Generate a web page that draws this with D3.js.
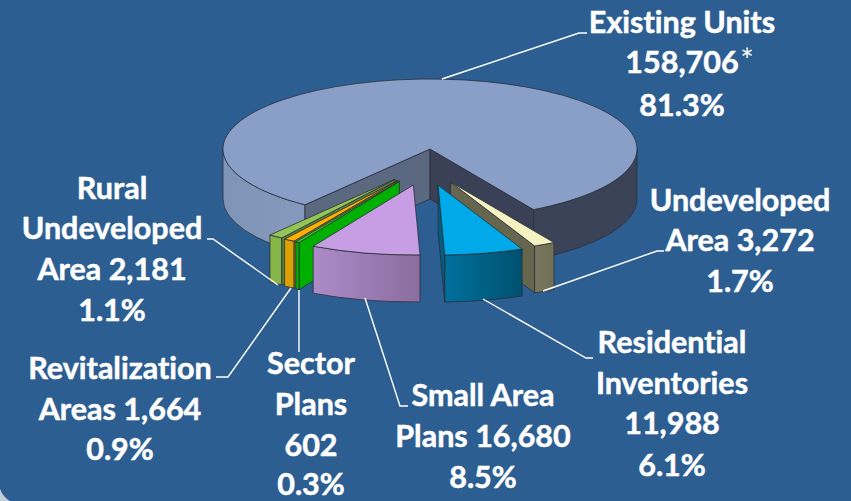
<!DOCTYPE html>
<html>
<head>
<meta charset="utf-8">
<script src="https://cdnjs.cloudflare.com/ajax/libs/d3/7.8.5/d3.min.js"></script>
<style>
  html, body { margin: 0; padding: 0; background: #2d5e91; overflow: hidden; }
  svg { display: block; }
  .lbl { font-family: Lato, "Open Sans", sans-serif; font-weight: 700; fill: #fff; stroke: #fff; stroke-width: 0.5px; text-anchor: middle; font-variant-ligatures: none; }
  .star { font-family: Lato, "Open Sans", sans-serif; font-weight: 400; fill: #fff; text-anchor: middle; }
</style>
</head>
<body>
<div id="chart"></div>
<script>
// slices in drawing order round the pie, clockwise from the "Existing Units" right edge
var categories = ["Undeveloped Area", "Residential Inventories", "Small Area Plans", "Sector Plans", "Revitalization Areas", "Rural Undeveloped Area", "Existing Units"];
var units = [3272, 11988, 16680, 602, 1664, 2181, 158706];
var percents = ["1.7%", "6.1%", "8.5%", "0.3%", "0.9%", "1.1%", "81.3%"];

var width = 851, height = 501;
var rx = 207, ry = 70;
var center = [430, 149];
var rad = Math.PI / 180;

// colours: top, wall left, wall right, cut face
var colors = [
  {top: "#f5f3c2", w0: "#7b7a60", w1: "#6f6e55", face: "#66654d"},
  {top: "#00a9e8", w0: "#00709c", w1: "#00516f", face: "#005f80"},
  {top: "#c79de3", w0: "#ac8bc8", w1: "#8b6d9e", face: "#8b6d9e"},
  {top: "#29d629", w0: "#00b000", w1: "#00b000", face: "#00b000"},
  {top: "#ffb000", w0: "#dea200", w1: "#dea200", face: "#8f7a1c"},
  {top: "#93c655", w0: "#86b548", w1: "#86b548", face: "#5c7f38"},
  {top: "#8a9fc7", w0: "#8094b8", w1: "#3a4258", face: "#5a6880", face2: "#3a4156"}
];

// label lines; leader is the polyline from the slice to its label
var labelLines = [
  ["Undeveloped", "Area 3,272", "1.7%"],
  ["Residential", "Inventories", "11,988", "6.1%"],
  ["Small Area", "Plans 16,680", "8.5%"],
  ["Sector", "Plans", "602", "0.3%"],
  ["Revitalization", "Areas 1,664", "0.9%"],
  ["Rural", "Undeveloped", "Area 2,181", "1.1%"],
  ["Existing Units", "158,706", "81.3%"]
];
var labelPos = [
  {x: 740, y: [211, 251, 292], leader: [[543, 291], [657, 251], [664, 251]]},
  {x: 672, y: [353, 394, 434, 476], leader: [[483, 299], [586, 358], [593, 358]]},
  {x: 483, y: [406, 447, 488], leader: [[365, 298], [400, 406], [408, 406]]},
  {x: 311, y: [374, 415, 456, 495], leader: [[299, 290], [299, 352]]},
  {x: 120, y: [379, 420, 460], leader: [[291, 288], [228, 377], [216, 377]]},
  {x: 112, y: [199, 239, 280, 321], leader: [[278, 285], [213, 239], [207, 239]]},
  {x: 682, y: [33, 73, 116], leader: [[442, 79], [579, 33], [587, 33]]}
];

var pie = d3.pie().sort(null).startAngle(150 * rad).endAngle(510 * rad);
var arcs = pie(units);

var svg = d3.select("#chart").append("svg").attr("width", width).attr("height", height);
var defs = svg.append("defs");

svg.append("rect").attr("width", width).attr("height", height).attr("fill", "#2d5e91");
// slide corner showing at the bottom left
svg.append("path").attr("d", "M0,489Q3,497 10,501L0,501Z").attr("fill", "#c4ced8");

function apexOf(a) {
  if (a.index === 6) return center;  // the big slice stays put, the rest are pulled out
  var mid = (a.startAngle + a.endAngle) / 2;
  return [center[0] - 4 + 54 * Math.sin(mid), center[1] - 37 * Math.cos(mid)];
}
function pt(o, ang, dy) {
  return [o[0] + rx * Math.sin(ang), o[1] - ry * Math.cos(ang) + (dy || 0)];
}
function large(a0, a1) { return a1 - a0 > Math.PI ? 1 : 0; }

function topPath(o, a0, a1) {
  var p0 = pt(o, a0), p1 = pt(o, a1);
  return "M" + o + "L" + p0 + "A" + rx + "," + ry + " 0 " + large(a0, a1) + " 1 " + p1 + "Z";
}
function wallPath(o, a0, a1, depth) {
  var p0 = pt(o, a0), p1 = pt(o, a1), q1 = pt(o, a1, depth), q0 = pt(o, a0, depth);
  return "M" + p0 + "A" + rx + "," + ry + " 0 0 1 " + p1 + "L" + q1 + "A" + rx + "," + ry + " 0 0 0 " + q0 + "Z";
}
function facePath(o, ang, depth) {
  var p = pt(o, ang);
  return "M" + o + "L" + p + "L" + [p[0], p[1] + depth] + "L" + [o[0], o[1] + depth] + "Z";
}

// the front half of the rim, a slice may have two runs of it
function visibleWalls(a0, a1) {
  var runs = [];
  [[90, 270], [450, 630]].forEach(function(r) {
    var s = Math.max(a0, r[0] * rad), e = Math.min(a1, r[1] * rad);
    if (e > s) runs.push([s, e]);
  });
  return runs;
}

var stroke = "#2b2f3a";

function drawSlice(a) {
  var o = apexOf(a), c = colors[a.index];
  var depth = a.index === 6 ? 50 : 47;
  var g = svg.append("g").attr("class", "slice");
  var a0 = a.startAngle, a1 = a.endAngle;

  visibleWalls(a0, a1).forEach(function(run, i) {
    var id = "wall" + a.index + "_" + i;
    var x0 = pt(o, run[0])[0], x1 = pt(o, run[1])[0];
    var lg = defs.append("linearGradient").attr("id", id)
      .attr("gradientUnits", "userSpaceOnUse")
      .attr("x1", Math.min(x0, x1)).attr("x2", Math.max(x0, x1)).attr("y1", 0).attr("y2", 0);
    var left = c.w0, right = c.w1;
    if (a.index === 6) {
      // big slice: left run is light, right run is dark
      if (run[0] < Math.PI * 1.6) { left = "#8094b8"; right = "#8599bd"; }
      else { left = "#3b4359"; right = c.w1; }
    }
    lg.append("stop").attr("offset", 0).attr("stop-color", left);
    lg.append("stop").attr("offset", 1).attr("stop-color", right);
    g.append("path").attr("d", wallPath(o, run[0], run[1], depth))
      .attr("fill", "url(#" + id + ")").attr("stroke", stroke).attr("stroke-width", 0.8);
  });

  // a cut face only shows when it looks towards the viewer
  if (Math.sin(a0) < 0) {
    g.append("path").attr("d", facePath(o, a0, depth)).attr("fill", c.face)
      .attr("stroke", stroke).attr("stroke-width", 0.8);
  }
  if (Math.sin(a1) > 0) {
    g.append("path").attr("d", facePath(o, a1, depth)).attr("fill", c.face2 || c.face)
      .attr("stroke", stroke).attr("stroke-width", 0.8);
  }
  g.append("path").attr("d", topPath(o, a0, a1)).attr("fill", c.top)
    .attr("stroke", stroke).attr("stroke-width", 0.8);
}

// painter's order, back to front
[6, 0, 1, 5, 4, 3, 2].forEach(function(i) { drawSlice(arcs[i]); });

var line = d3.line();
labelPos.forEach(function(p) {
  svg.append("path").attr("d", line(p.leader)).attr("fill", "none")
    .attr("stroke", "#fff").attr("stroke-width", 1.4);
});

labelLines.forEach(function(lines, i) {
  lines.forEach(function(t, j) {
    svg.append("text").attr("class", "lbl")
      .attr("x", labelPos[i].x).attr("y", labelPos[i].y[j])
      .attr("font-size", 30.5)
      .text(t);
  });
});
svg.append("text").attr("class", "star").attr("x", 747).attr("y", 72).attr("font-size", 32).text("*");
</script>
</body>
</html>
